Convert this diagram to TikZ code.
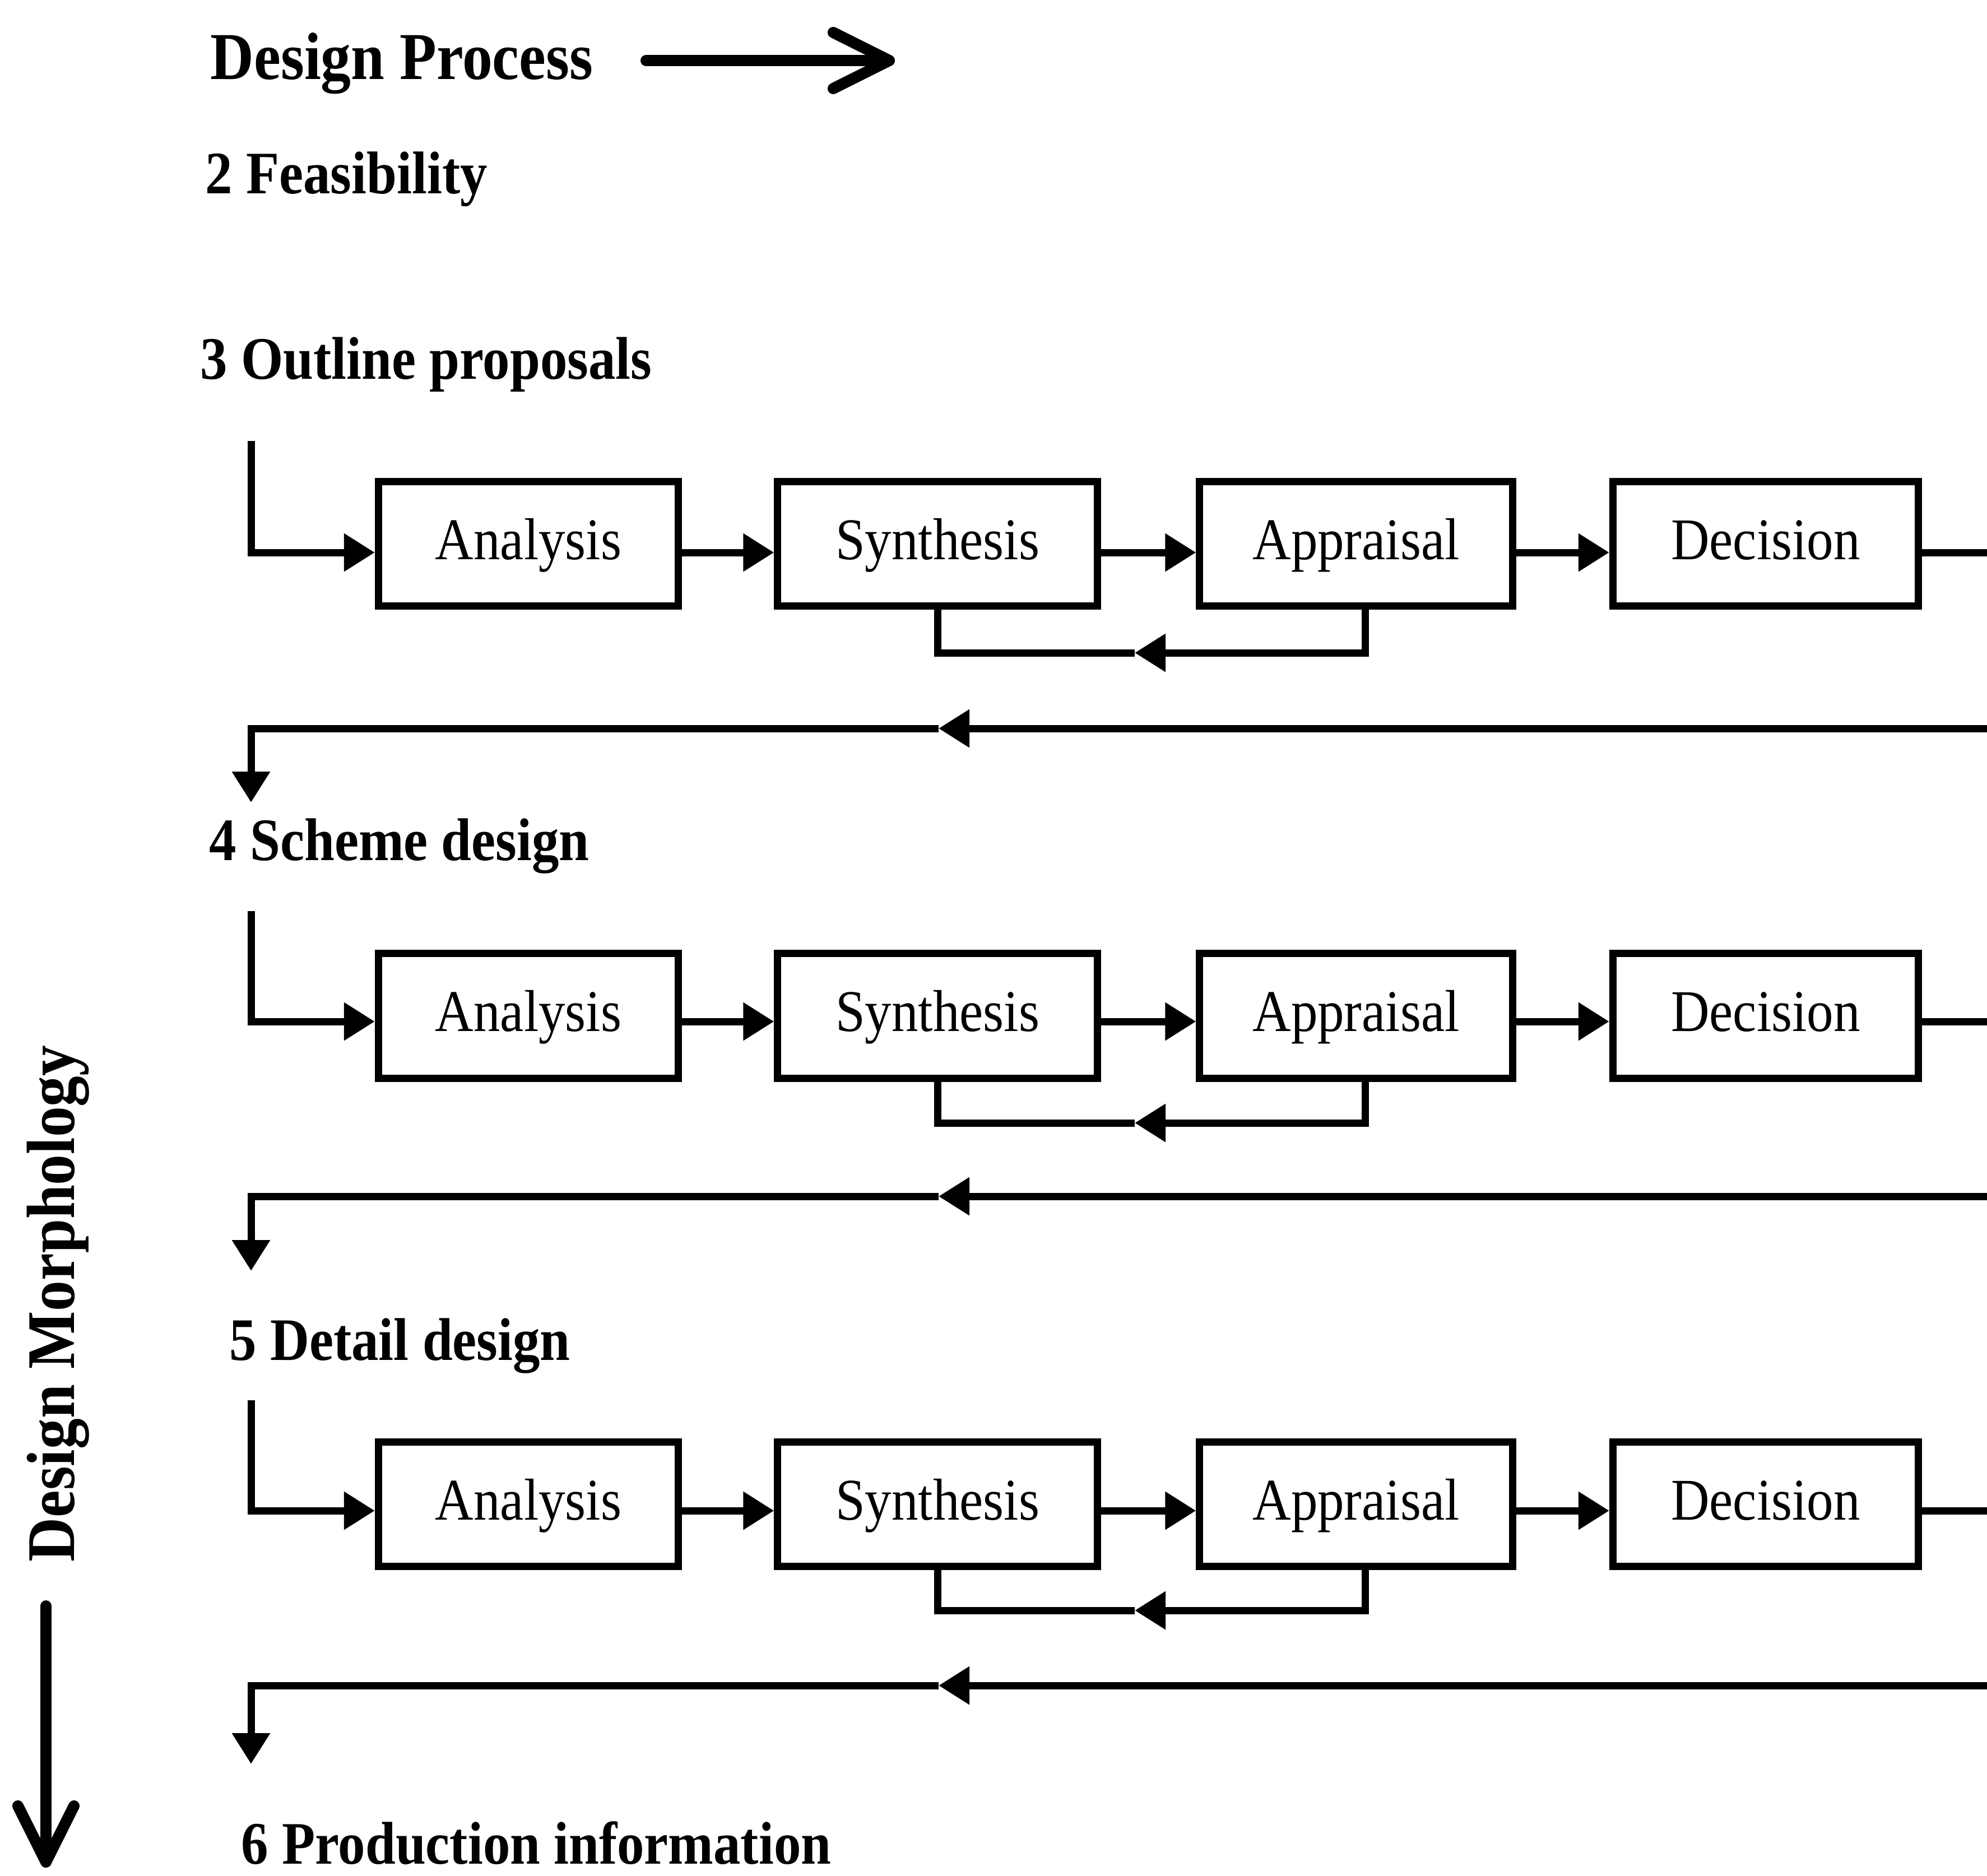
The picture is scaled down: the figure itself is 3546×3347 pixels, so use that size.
\documentclass[tikz,border=0pt]{standalone}
\usepackage{fontspec}
\setmainfont{Liberation Serif}[FakeStretch=0.9]
\usetikzlibrary{arrows.meta}
\begin{document}
\begin{tikzpicture}[x=0.01cm,y=-0.01cm,
  conn/.style={line width=0.13cm},
  arrowfill/.style={-{Triangle[length=0.55cm,width=0.65cm]}},
  bigarrow/.style={line width=0.2cm,line cap=round,-{Straight Barb[length=1cm,width=1cm,round]}},
  stage/.style={font=\fontsize{30.6pt}{36pt}\selectfont\bfseries,anchor=base west,inner sep=0pt},
  box/.style={draw,line width=0.13cm,inner sep=0pt,minimum height=2.22cm,
    text height=0.76cm,text depth=0.21cm,font=\fontsize{30pt}{36pt}\selectfont},
]
\useasboundingbox (0,0) rectangle (3546,3347);
\clip (0,0) rectangle (3546,3347);

% axis titles
\node[font=\fontsize{34pt}{40pt}\selectfont\bfseries,anchor=base west,inner sep=0pt]
  (title) at (375,141) {Design Process};
\coordinate (pA) at (1153,108);
\coordinate (pB) at (1597,108);
\draw[bigarrow] (pA) -- (pB);

\node[font=\fontsize{34.6pt}{40pt}\selectfont\bfseries,anchor=base west,inner sep=0pt,rotate=90]
  (morph) at (132,2788) {Design Morphology};
\coordinate (mA) at (82,2866);
\coordinate (mB) at (82,3333);
\draw[bigarrow] (mA) -- (mB);

% stage headings
\node[stage] (s2) at (366,345) {2 Feasibility};
\node[stage] (s3) at (357,676) {3 Outline proposals};
\node[stage] (s4) at (373,1535) {4 Scheme design};
\node[stage] (s5) at (409,2427) {5 Detail design};
\node[stage] (s6) at (430,3326) {6 Production information};

% one analysis-synthesis-appraisal-decision chain per stage
\foreach \r/\top/\bot/\ch/\intop/\fb/\ret/\dn in
  {1/853/1088/986/787/1165/1300/1432,
   2/1696/1930/1823/1626/2004/2135/2268,
   3/2567/2802/2696/2499/2874/3008/3148}{
  \node[box,minimum width=5.35cm] (A\r) at (943,{(\top+\bot)/2}) {Analysis};
  \node[box,minimum width=5.70cm] (S\r) at (1673,{(\top+\bot)/2}) {Synthesis};
  \node[box,minimum width=5.58cm] (P\r) at (2420,{(\top+\bot)/2}) {Appraisal};
  \node[box,minimum width=5.45cm] (D\r) at (3151,{(\top+\bot)/2}) {Decision};

  \coordinate (ch\r) at (0,\ch);
  \coordinate (in\r) at (448,\intop);
  \draw[conn,arrowfill] (in\r) |- (A\r.west |- ch\r);
  \draw[conn,arrowfill] (A\r.east |- ch\r) -- (S\r.west |- ch\r);
  \draw[conn,arrowfill] (S\r.east |- ch\r) -- (P\r.west |- ch\r);
  \draw[conn,arrowfill] (P\r.east |- ch\r) -- (D\r.west |- ch\r);

  % appraisal feeds back into synthesis
  \coordinate (fbR\r) at (2436,\fb);
  \coordinate (fbT\r) at (2025,\fb);
  \draw[conn,arrowfill] (P\r.south -| fbR\r) |- (fbT\r);
  \draw[conn] (fbT\r) -| (S\r.south);

  % decision returns to the next stage
  \coordinate (rtT\r) at (1675,\ret);
  \coordinate (dn\r) at (448,\dn);
  \draw[conn,arrowfill] (D\r.east |- ch\r) -| (3620,\ret) -- (rtT\r);
  \draw[conn,arrowfill] (rtT\r) -| (dn\r);
}
\end{tikzpicture}
\end{document}
